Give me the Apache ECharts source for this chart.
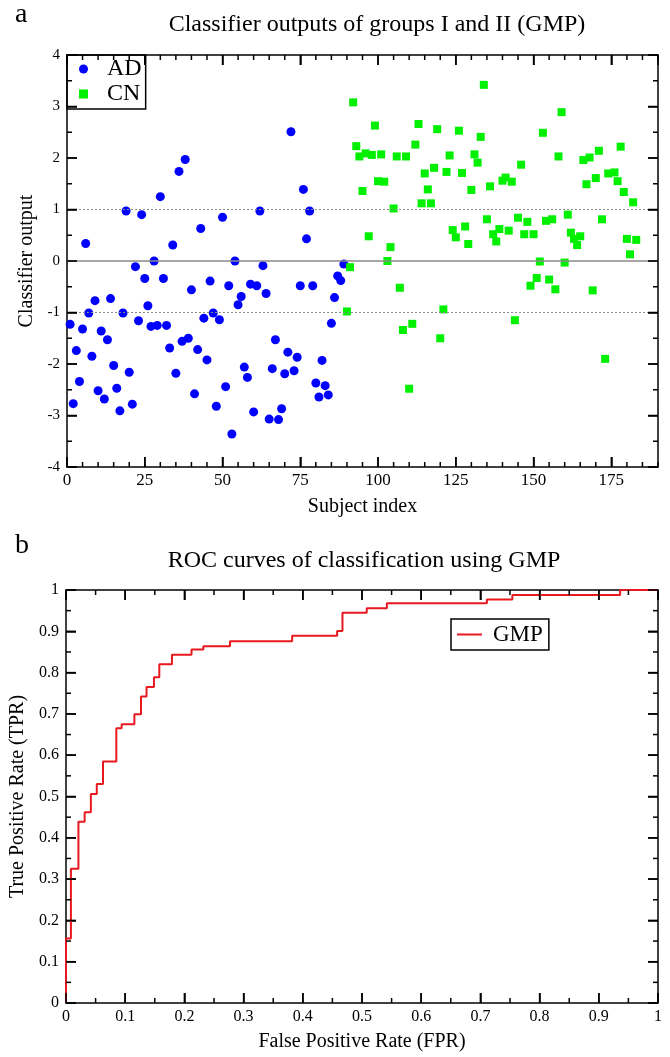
<!DOCTYPE html>
<html><head><meta charset="utf-8">
<script src="https://cdn.jsdelivr.net/npm/echarts@6/dist/echarts.min.js"></script>
<style>html,body{margin:0;padding:0;background:#fff}#c{width:670px;height:1057px}</style>
</head><body><div id="c"></div>
<script>
// ---------- Data: panel a (classifier outputs) ----------
const adIndex = [1,2,3,4,5,6,7,8,9,10,11,12,13,14,15,16,17,18,19,20,21,22,23,24,25,26,27,28,29,30,
  31,32,33,34,35,36,37,38,39,40,41,42,43,44,45,46,47,48,49,50,51,52,53,54,55,56,57,58,59,60,
  61,62,63,64,65,66,67,68,69,70,71,72,73,74,75,76,77,78,79,80,81,82,83,84,85,86,87,88,89];
const adOutput = [-1.23,-2.77,-1.74,-2.34,-1.32,0.34,-1.01,-1.85,-0.77,-2.52,-1.36,-2.68,-1.53,-0.73,-2.03,-2.47,-2.91,-1.01,0.97,-2.16,
  -2.78,-0.11,-1.16,0.90,-0.34,-0.87,-1.27,0.00,-1.25,1.25,-0.34,-1.25,-1.69,0.31,-2.18,1.74,-1.56,1.97,-1.50,-0.56,
  -2.58,-1.72,0.63,-1.11,-1.92,-0.39,-1.01,-2.82,-1.14,0.85,-2.44,-0.48,-3.36,0.00,-0.85,-0.69,-2.06,-2.26,-0.45,-2.93,
  -0.48,0.97,-0.09,-0.63,-3.07,-2.09,-1.53,-3.08,-2.87,-2.19,-1.77,2.51,-2.13,-1.87,-0.48,1.39,0.43,0.97,-0.48,-2.37,
  -2.64,-1.93,-2.42,-2.60,-1.21,-0.71,-0.29,-0.38,-0.06];
const cnIndex = [90,91,92,93,94,95,96,97,98,99,100,101,102,103,104,105,106,107,108,109,110,111,112,113,114,115,116,117,118,119,
  120,121,122,123,124,125,126,127,128,129,130,131,132,133,134,135,136,137,138,139,140,141,142,143,144,145,146,147,148,149,
  150,151,152,153,154,155,156,157,158,159,160,161,162,163,164,165,166,167,168,169,170,171,172,173,174,176,177,178,179,180,
  181,182,183];
const cnOutput = [-0.98,-0.12,3.08,2.23,2.03,1.36,2.09,0.48,2.06,2.63,1.55,2.07,1.54,0.00,0.27,1.02,2.03,-0.52,-1.34,2.03,
  -2.48,-1.22,2.26,2.66,1.12,1.70,1.39,1.12,1.81,2.56,-1.50,-0.94,1.73,2.05,0.60,0.46,2.53,1.71,0.67,0.33,
  1.38,2.07,1.91,2.41,3.42,0.81,1.45,0.52,0.38,0.62,1.56,1.62,0.59,1.54,-1.15,0.84,1.87,0.52,0.76,-0.48,
  0.52,-0.33,-0.01,2.49,0.78,-0.36,0.81,-0.55,2.03,2.89,-0.03,0.90,0.55,0.43,0.31,0.48,1.96,1.49,2.01,-0.57,
  1.61,2.14,0.81,-1.90,1.70,1.72,1.55,2.22,1.34,0.43,0.13,1.14,0.41];
const refLines = [-1, 0, 1];

// ---------- Data: panel b (ROC curve, staircase corners) ----------
const rocFPR = [0,0,0.0083,0.021,0.0315,0.042,0.052,0.0625,0.085,0.094,0.1155,0.1267,0.136,0.1486,0.1576,0.179,0.212,0.232,0.277,0.382,0.458,0.467,0.508,0.542,0.711,0.754,0.936,1];
const rocTPR = [0,0.156,0.325,0.439,0.462,0.506,0.530,0.585,0.665,0.675,0.699,0.742,0.765,0.789,0.820,0.843,0.856,0.864,0.876,0.889,0.901,0.945,0.956,0.968,0.977,0.988,1.0,1.0];

// ---------- Axis ranges / tick spacing ----------
const axA = { xMin: 0, xMax: 190, xMajor: 25, xMinor: 5, yMin: -4, yMax: 4, yMajor: 1, yMinor: 0.5 };
const axB = { xMin: 0, xMax: 1, xMajor: 0.1, xMinor: 0.05, yMin: 0, yMax: 1, yMajor: 0.1, yMinor: 0.05 };

// ---------- Text ----------
const titleA = 'Classifier outputs of groups I and II (GMP)';
const titleB = 'ROC curves of classification using GMP';

const FONT = 'Liberation Serif';
const BLACK = '#000000';
const MAJOR_LEN = 10, MINOR_LEN = 5;

function axisBase(o) {
  return Object.assign({
    type: 'value',
    splitLine: { show: false },
    axisLine: { show: true, onZero: false, lineStyle: { color: BLACK, width: 1.5 } },
    axisTick: { show: true, inside: true, length: MAJOR_LEN, lineStyle: { color: BLACK, width: 1.5 } },
    axisLabel: { show: false },
    nameTextStyle: { fontFamily: FONT, fontSize: 20, color: BLACK }
  }, o);
}
function labelStyle(size, margin, extra) {
  return Object.assign({ show: true, fontFamily: FONT, fontSize: size, color: BLACK, margin: margin }, extra || {});
}

const adData = adIndex.map((x, i) => [x, adOutput[i]]);
const cnData = cnIndex.map((x, i) => [x, cnOutput[i]]);
const rocData = rocFPR.map((x, i) => [x, rocTPR[i]]);

const textGraphics = [
  { type: 'text', x: 15, y: 15, z: 50, style: { text: 'a', font: '28px "Liberation Serif"', fill: BLACK, verticalAlign: 'middle' } },
  { type: 'text', x: 15, y: 546, z: 50, style: { text: 'b', font: '28px "Liberation Serif"', fill: BLACK, verticalAlign: 'middle' } },
  { type: 'text', x: 377, y: 25, z: 50, style: { text: titleA, font: '24px "Liberation Serif"', fill: BLACK, align: 'center', verticalAlign: 'middle' } },
  { type: 'text', x: 364, y: 561, z: 50, style: { text: titleB, font: '24px "Liberation Serif"', fill: BLACK, align: 'center', verticalAlign: 'middle' } }
];

const chart = echarts.init(document.getElementById('c'));
chart.setOption({
  animation: false,
  grid: [
    { left: 67, top: 55, width: 591, height: 412 },
    { left: 66, top: 590, width: 592, height: 413 }
  ],
  xAxis: [
    axisBase({ gridIndex: 0, position: 'bottom', min: axA.xMin, max: axA.xMax, interval: axA.xMajor,
      axisLabel: labelStyle(17, 5, { showMaxLabel: false }),
      name: 'Subject index', nameLocation: 'middle', nameGap: 30 }),
    axisBase({ gridIndex: 0, position: 'top', min: axA.xMin, max: axA.xMax, interval: axA.xMajor }),
    axisBase({ gridIndex: 1, position: 'bottom', min: axB.xMin, max: axB.xMax, interval: axB.xMajor,
      axisLabel: labelStyle(16, 6),
      name: 'False Positive Rate (FPR)', nameLocation: 'middle', nameGap: 29 }),
    axisBase({ gridIndex: 1, position: 'top', min: axB.xMin, max: axB.xMax, interval: axB.xMajor })
  ],
  yAxis: [
    axisBase({ gridIndex: 0, position: 'left', min: axA.yMin, max: axA.yMax, interval: axA.yMajor,
      axisLabel: labelStyle(15, 7),
      name: 'Classifier output', nameLocation: 'middle', nameGap: 26, nameRotate: 90 }),
    axisBase({ gridIndex: 0, position: 'right', min: axA.yMin, max: axA.yMax, interval: axA.yMajor }),
    axisBase({ gridIndex: 1, position: 'left', min: axB.yMin, max: axB.yMax, interval: axB.yMajor,
      axisLabel: labelStyle(16, 7),
      name: 'True Positive Rate (TPR)', nameLocation: 'middle', nameGap: 30, nameRotate: 90 }),
    axisBase({ gridIndex: 1, position: 'right', min: axB.yMin, max: axB.yMax, interval: axB.yMajor })
  ],
  legend: [
    {
      data: [{ name: 'AD', icon: 'circle' }, { name: 'CN', icon: 'rect' }],
      orient: 'vertical', left: 67, top: 55,
      padding: [2, 4, 3, 12], itemGap: 1, itemWidth: 9, itemHeight: 9,
      borderColor: BLACK, borderWidth: 1.5, borderRadius: 0,
      textStyle: { fontFamily: FONT, fontSize: 24, color: BLACK, lineHeight: 24, padding: [0, 0, 0, 14] },
      selectedMode: false
    },
    {
      data: [{ name: 'GMP', icon: 'rect' }],
      orient: 'vertical', left: 451, top: 619,
      padding: [4, 6, 4, 6], itemWidth: 25, itemHeight: 2,
      borderColor: BLACK, borderWidth: 1.5, borderRadius: 0,
      textStyle: { fontFamily: FONT, fontSize: 23, color: BLACK, lineHeight: 23, padding: [0, 0, 0, 6] },
      selectedMode: false
    }
  ],
  graphic: textGraphics,
  series: [
    { name: 'AD', type: 'scatter', xAxisIndex: 0, yAxisIndex: 0, data: adData, symbol: 'circle', symbolSize: 9,
      itemStyle: { color: '#0000ff', opacity: 1 }, z: 3,
      markLine: {
        silent: true, animation: false, symbol: ['none', 'none'], label: { show: false },
        data: refLines.map(v => ({
          yAxis: v,
          lineStyle: v === 0 ? { color: '#8a8a8a', width: 1.5, type: 'solid' } : { color: '#8a8a8a', width: 1, type: [2, 2] }
        }))
      } },
    { name: 'CN', type: 'scatter', xAxisIndex: 0, yAxisIndex: 0, data: cnData, symbol: 'rect', symbolSize: 8,
      itemStyle: { color: '#00f000', opacity: 1 }, z: 3 },
    { name: 'GMP', type: 'line', xAxisIndex: 2, yAxisIndex: 2, data: rocData, step: 'end', symbol: 'none',
      lineStyle: { color: '#e8191e', width: 2 }, itemStyle: { color: '#e8191e' }, z: 3 }
  ]
});

// Inward frame ticks (major + minor), positioned through the chart's own axis scales
function frameTicks(gridIndex, ax) {
  const finder = { gridIndex: gridIndex };
  const els = [];
  const seg = (p, q) => els.push({ type: 'line', z: 60, silent: true,
    shape: { x1: p[0], y1: p[1], x2: q[0], y2: q[1] }, style: { stroke: BLACK, lineWidth: 1.5 } });
  const nx = Math.round((ax.xMax - ax.xMin) / ax.xMinor), rx = Math.round(ax.xMajor / ax.xMinor);
  for (let i = 0; i <= nx; i++) {
    const v = ax.xMin + i * ax.xMinor, L = (i % rx === 0) ? MAJOR_LEN : MINOR_LEN;
    const b = chart.convertToPixel(finder, [v, ax.yMin]);
    const t = chart.convertToPixel(finder, [v, ax.yMax]);
    seg(b, [b[0], b[1] - L]);
    seg(t, [t[0], t[1] + L]);
  }
  const ny = Math.round((ax.yMax - ax.yMin) / ax.yMinor), ry = Math.round(ax.yMajor / ax.yMinor);
  for (let i = 0; i <= ny; i++) {
    const v = ax.yMin + i * ax.yMinor, L = (i % ry === 0) ? MAJOR_LEN : MINOR_LEN;
    const l = chart.convertToPixel(finder, [ax.xMin, v]);
    const r = chart.convertToPixel(finder, [ax.xMax, v]);
    seg(l, [l[0] + L, l[1]]);
    seg(r, [r[0] - L, r[1]]);
  }
  return els;
}
chart.setOption({ graphic: textGraphics.concat(frameTicks(0, axA), frameTicks(1, axB)) });
</script></body></html>
